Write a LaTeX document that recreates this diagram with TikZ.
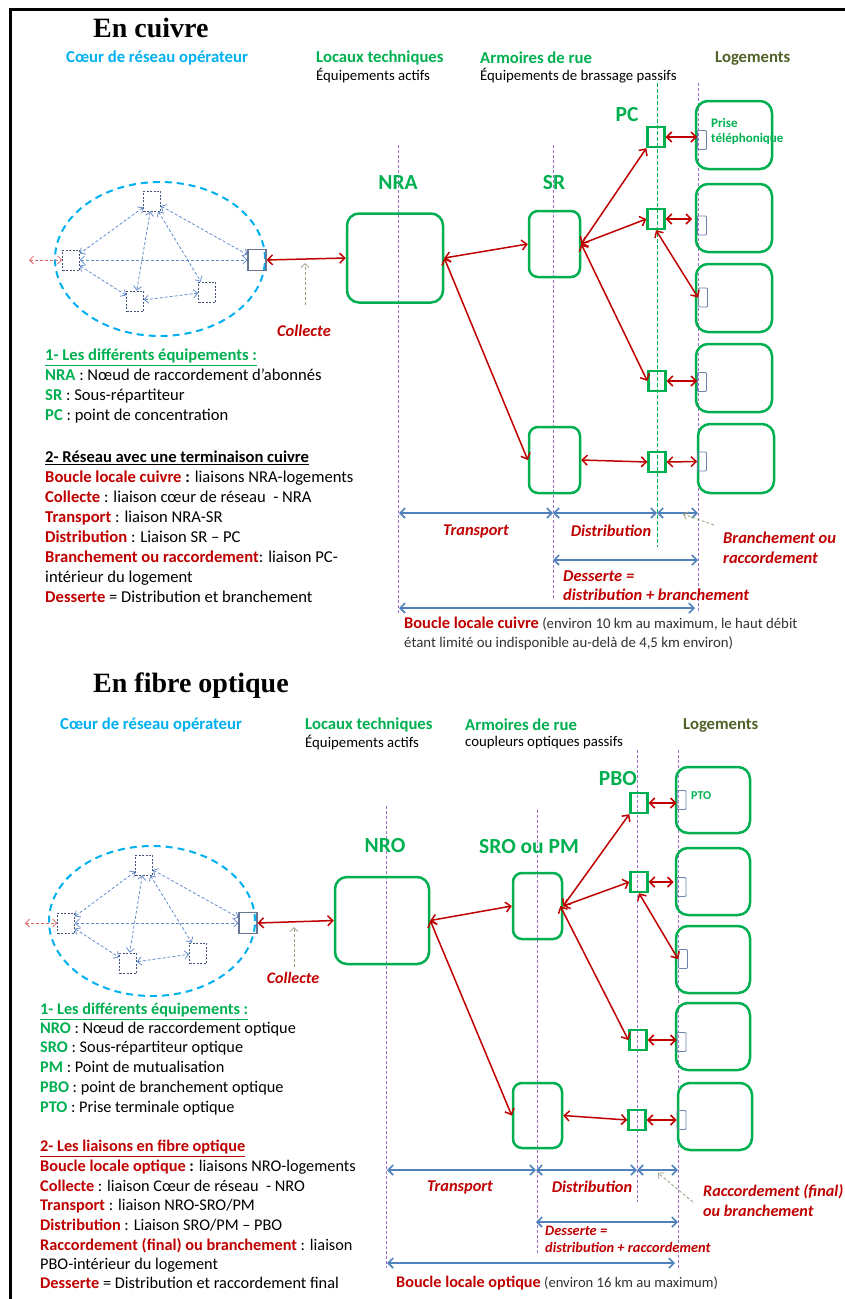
\documentclass[tikz,border=0pt]{standalone}
\usepackage{fontspec}
\setmainfont{Carlito}
\newfontfamily\titlefont{Liberation Serif}
\usetikzlibrary{arrows.meta,shapes.geometric}
\definecolor{grn}{RGB}{0,176,80}
\definecolor{cyanc}{RGB}{0,176,240}
\definecolor{redc}{RGB}{192,0,0}
\definecolor{olivec}{RGB}{79,98,40}
\definecolor{purp}{RGB}{160,110,210}
\definecolor{brc}{RGB}{79,129,189}
\definecolor{coreac}{RGB}{100,140,205}
\definecolor{sqc}{RGB}{68,84,120}
\definecolor{plugc}{RGB}{110,130,175}
\definecolor{darkt}{RGB}{50,50,50}
\tikzset{
 every node/.style={inner sep=0pt},
 gbox/.style={draw=grn, line width=2.5pt, rounded corners=12pt},
 gsq/.style={draw=grn, line width=2.4pt, minimum width=17pt, minimum height=20pt},
 plug/.style={draw=plugc, line width=0.9pt, rounded corners=1pt, minimum width=9pt, minimum height=19pt},
 dsq/.style={draw=sqc, line width=0.7pt, dash pattern=on 2pt off 1.5pt, minimum width=17pt, minimum height=20pt},
 ssq/.style={draw=sqc!80, line width=1.1pt, minimum width=18pt, minimum height=21pt},
 redarr/.style={draw=redc, line width=1.5pt, {Straight Barb[length=5pt,width=10pt]}-{Straight Barb[length=5pt,width=10pt]}},
 corearr/.style={draw=coreac, line width=0.8pt, dash pattern=on 3pt off 2pt, {Straight Barb[length=4pt,width=8pt]}-{Straight Barb[length=4pt,width=8pt]}},
 reddash/.style={draw=redc!60, line width=0.8pt, dash pattern=on 3pt off 2pt, {Straight Barb[length=4pt,width=8pt]}-{Straight Barb[length=4pt,width=8pt]}},
 oldash/.style={draw=olivec!60, line width=0.8pt, dash pattern=on 3pt off 2pt, -{Straight Barb[length=4pt,width=8pt]}},
 vline/.style={draw=purp, line width=0.8pt, dash pattern=on 3pt off 2pt},
 gline/.style={draw=grn, line width=0.8pt, dash pattern=on 4pt off 2pt},
 brk/.style={draw=brc, line width=1.6pt, {Straight Barb[length=5pt,width=10pt]}-{Straight Barb[length=5pt,width=10pt]}},
 core/.style={ellipse, draw=cyanc, line width=2pt, dash pattern=on 7pt off 5pt},
 ttl/.style={anchor=west, font=\titlefont\bfseries\fontsize{28}{31}\selectfont},
 hdr/.style={anchor=west, font=\bfseries\fontsize{16.7}{19}\selectfont},
 sub/.style={anchor=west, font=\fontsize{14.8}{17}\selectfont},
 eql/.style={text=grn, font=\bfseries\fontsize{21.5}{24}\selectfont},
 lg/.style={anchor=west, font=\fontsize{16.6}{19}\selectfont, text height=1.5ex, text depth=.3ex},
 lgb/.style={anchor=west, font=\fontsize{16.3}{19}\selectfont, text height=1.5ex, text depth=.3ex},
 lab/.style={text=redc, font=\bfseries\itshape\fontsize{16.4}{19}\selectfont},
 labw/.style={anchor=west, text=redc, font=\bfseries\itshape\fontsize{16.5}{19}\selectfont},
}
\begin{document}
\begin{tikzpicture}[x=1pt,y=-1pt]
\useasboundingbox (0,0) rectangle (845,1299);
\draw[line width=3pt] (10,1299) -- (10,9) -- (845,9);
% ================= TOP : EN CUIVRE =================
\node[ttl] (at) at (93,28) {En cuivre};
\node[hdr, text=cyanc] (ah1) at (66,58) {Cœur de réseau opérateur};
\node[hdr, text=grn] (ah2) at (316,58) {Locaux techniques};
\node[sub] (as2) at (316,76) {Équipements actifs};
\node[hdr, text=grn] (ah3) at (480,58) {Armoires de rue};
\node[sub] (as3) at (480,76) {Équipements de brassage passifs};
\node[hdr, text=olivec] (ah4) at (715,58) {Logements};
% vertical lines
\coordinate (av1a) at (398,145); \coordinate (av1b) at (398,613);
\coordinate (av2a) at (553,145); \coordinate (av2b) at (553,600);
\coordinate (av3a) at (657,83);  \coordinate (av3b) at (657,547);
\coordinate (av4a) at (698,83);  \coordinate (av4b) at (698,613);
\draw[vline] (av1a) -- (av1b);
\draw[vline] (av2a) -- (av2b);
\draw[gline] (av3a) -- (av3b);
\draw[vline] (av4a) -- (av4b);
% core network
\node[core, minimum width=210pt, minimum height=154pt] (acore) at (160,259) {};
\node[dsq] (actop) at (152,201) {};
\node[dsq] (acleft) at (71,260) {};
\node[dsq] (acbot) at (135,301) {};
\node[dsq] (acbr) at (207,292) {};
\node[ssq] (acrs) at (257,260) {};
\draw[corearr] (actop) -- (acrs);
\draw[corearr] (actop) -- (acleft);
\draw[corearr] (actop) -- (acbot);
\draw[corearr] (actop) -- (acbr);
\draw[corearr] (acleft) -- (acrs);
\draw[corearr] (acleft) -- (acbot);
\draw[corearr] (acbot) -- (acbr);
\coordinate (aext) at (29,260);
\draw[reddash] (aext) -- (acleft.west);
% boxes
\node[eql] (anra) at (398,183) {NRA};
\node[eql] (asrl) at (554,183) {SR};
\node[eql] (apcl) at (627,115) {PC};
\node[gbox, minimum width=96pt, minimum height=89pt] (nra) at (395,258) {};
\node[gbox, rounded corners=9pt, minimum width=51pt, minimum height=66pt] (asr1) at (554.5,244) {};
\node[gbox, rounded corners=9pt, minimum width=51pt, minimum height=66pt] (asr2) at (554.5,460) {};
\node[gsq] (apc1) at (656,137) {};
\node[gsq] (apc2) at (656,219) {};
\node[gsq] (apc3) at (657,381) {};
\node[gsq] (apc4) at (657,462) {};
\node[gbox, minimum width=76pt, minimum height=68pt] (al1) at (734,135) {};
\node[gbox, minimum width=76pt, minimum height=68pt] (al2) at (734,218) {};
\node[gbox, minimum width=76pt, minimum height=68pt] (al3) at (734,298) {};
\node[gbox, minimum width=76pt, minimum height=68pt] (al4) at (734,378) {};
\node[gbox, minimum width=76pt, minimum height=69pt] (al5) at (736,458.5) {};
\node[plug] (ap1) at (702,140) {};
\node[plug] (ap2) at (702,225.5) {};
\node[plug] (ap3) at (703,297.5) {};
\node[plug] (ap4) at (702,382) {};
\node[plug] (ap5) at (702,461.5) {};
\node[anchor=west, text=grn, font=\bfseries\fontsize{13}{15}\selectfont] (apt1) at (711,123) {Prise};
\node[anchor=west, text=grn, font=\bfseries\fontsize{13}{15}\selectfont] (apt2) at (711,139) {téléphonique};
% red links
\draw[redarr] (acrs.east) -- (nra.west);
\draw[redarr] (nra.east) -- (asr1.west);
\draw[redarr] (nra.east) -- (asr2.west);
\draw[redarr] (asr1.east) -- (apc1.south west);
\draw[redarr] (asr1.east) -- (apc2.west);
\draw[redarr] (asr1.east) -- (apc3.west);
\draw[redarr] (asr2.east) -- (apc4.west);
\draw[redarr] (apc2.south) -- (ap3.west);
\draw[redarr] (apc1.east) -- (apc1.east -| ap1.west);
\draw[redarr] (apc2.east) -- ([xshift=-5pt]apc2.east -| ap2.west);
\draw[redarr] (apc3.east) -- (apc3.east -| ap4.west);
\draw[redarr] (apc4.east) -- (ap5.west);
% collecte
\coordinate (acol1) at (305,305); \coordinate (acol2) at (305,263);
\draw[oldash] (acol1) -- (acol2);
\node[lab] (acol) at (304,331) {Collecte};
% brackets
\coordinate (ab1) at (399,513); \coordinate (ab2) at (553,513);
\coordinate (ab3) at (657,513); \coordinate (ab4) at (698,513);
\draw[brk] (ab1) -- (ab2);
\draw[brk] (ab2) -- (ab3);
\draw[brk] (ab3) -- (ab4);
\coordinate (ad1) at (553,560); \coordinate (ad2) at (698,560);
\draw[brk] (ad1) -- (ad2);
\coordinate (abl1) at (399,608); \coordinate (abl2) at (695,608);
\draw[brk] (abl1) -- (abl2);
\node[lab] (atr) at (476,531) {Transport};
\node[lab] (adi) at (611,531) {Distribution};
\node[labw] (abr1) at (723,538) {Branchement ou};
\node[labw] (abr2) at (723,558) {raccordement};
\coordinate (abra) at (714,525); \coordinate (abrb) at (683,514);
\draw[oldash] (abra) -- (abrb);
\node[labw] (ade1) at (563,576) {Desserte =};
\node[labw] (ade2) at (563,595) {distribution + branchement};
\node[anchor=west, font=\fontsize{14.8}{17}\selectfont] (abc1) at (404,624) {\textcolor{redc}{\bfseries\fontsize{16.4}{19}\selectfont Boucle locale cuivre} \textcolor{darkt}{(environ 10 km au maximum, le haut débit}};
\node[anchor=west, text=darkt, font=\fontsize{14.8}{17}\selectfont] (abc2) at (404,643) {étant limité ou indisponible au-delà de 4,5 km environ)};
% legend
\node[lg] (ag1) at (45,358) {\textcolor{grn}{\bfseries\underline{1- Les différents équipements :}}};
\node[lg] (ag2) at (45,378) {\textcolor{grn}{\bfseries NRA} : Nœud de raccordement d’abonnés};
\node[lg] (ag3) at (45,398) {\textcolor{grn}{\bfseries SR} : Sous-répartiteur};
\node[lg] (ag4) at (45,418) {\textcolor{grn}{\bfseries PC} : point de concentration};
\node[lg] (ag5) at (45,460) {\bfseries\underline{2- Réseau avec une terminaison cuivre}};
\node[lg] (ag6) at (45,480) {\textcolor{redc}{\bfseries Boucle locale cuivre} \textbf{:} liaisons NRA-logements};
\node[lg] (ag7) at (45,500) {\textcolor{redc}{\bfseries Collecte} : liaison cœur de réseau \ - NRA};
\node[lg] (ag8) at (45,520) {\textcolor{redc}{\bfseries Transport} : liaison NRA-SR};
\node[lg] (ag9) at (45,540) {\textcolor{redc}{\bfseries Distribution} : Liaison SR – PC};
\node[lg] (ag10) at (45,560) {\textcolor{redc}{\bfseries Branchement ou raccordement}: liaison PC-};
\node[lg] (ag11) at (45,580) {intérieur du logement};
\node[lg] (ag12) at (45,600) {\textcolor{redc}{\bfseries Desserte} = Distribution et branchement};
% ================= BOTTOM : EN FIBRE OPTIQUE =================
\node[ttl] (bt) at (93,686) {En fibre optique};
\node[hdr, text=cyanc] (bh1) at (60,725) {Cœur de réseau opérateur};
\node[hdr, text=grn] (bh2) at (305,725) {Locaux techniques};
\node[sub] (bs2) at (305,743) {Équipements actifs};
\node[hdr, text=grn] (bh3) at (465,725) {Armoires de rue};
\node[sub] (bs3) at (465,743) {coupleurs optiques passifs};
\node[hdr, text=olivec] (bh4) at (683,725) {Logements};
\coordinate (bv1a) at (386,806); \coordinate (bv1b) at (386,1268);
\coordinate (bv2a) at (537,810); \coordinate (bv2b) at (537,1255);
\coordinate (bv3a) at (637,750); \coordinate (bv3b) at (637,1202);
\coordinate (bv4a) at (678,750); \coordinate (bv4b) at (678,1268);
\draw[vline] (bv1a) -- (bv1b);
\draw[vline] (bv2a) -- (bv2b);
\draw[vline] (bv3a) -- (bv3b);
\draw[vline] (bv4a) -- (bv4b);
\node[core, minimum width=206pt, minimum height=150pt] (bcore) at (152,921) {};
\node[dsq] (bctop) at (144,865) {};
\node[dsq] (bcleft) at (66,923) {};
\node[dsq] (bcbot) at (128,963) {};
\node[dsq] (bcbr) at (198,953) {};
\node[ssq] (bcrs) at (248,923) {};
\draw[corearr] (bctop) -- (bcrs);
\draw[corearr] (bctop) -- (bcleft);
\draw[corearr] (bctop) -- (bcbot);
\draw[corearr] (bctop) -- (bcbr);
\draw[corearr] (bcleft) -- (bcrs);
\draw[corearr] (bcleft) -- (bcbot);
\draw[corearr] (bcbot) -- (bcbr);
\coordinate (bext) at (25,923);
\draw[reddash] (bext) -- (bcleft.west);
\node[eql] (bnrol) at (385,846) {NRO};
\node[eql] (bsrol) at (529,847) {SRO ou PM};
\node[eql] (bpbol) at (618,779) {PBO};
\node[gbox, minimum width=94pt, minimum height=87pt] (nro) at (382,920.5) {};
\node[gbox, rounded corners=9pt, minimum width=49pt, minimum height=66pt] (bsr1) at (537.5,906) {};
\node[gbox, rounded corners=9pt, minimum width=49pt, minimum height=65pt] (bsr2) at (537.5,1115.5) {};
\node[gsq] (bpb1) at (639,803) {};
\node[gsq] (bpb2) at (639,882) {};
\node[gsq] (bpb3) at (638,1040) {};
\node[gsq] (bpb4) at (637,1120) {};
\node[gbox, minimum width=74pt, minimum height=66pt] (bl1) at (713,800) {};
\node[gbox, minimum width=74pt, minimum height=67pt] (bl2) at (713,881.5) {};
\node[gbox, minimum width=74pt, minimum height=67pt] (bl3) at (713,959.5) {};
\node[gbox, minimum width=74pt, minimum height=67pt] (bl4) at (713,1036.5) {};
\node[gbox, minimum width=74pt, minimum height=67pt] (bl5) at (715,1116.5) {};
\node[plug] (bp1) at (681.5,800) {};
\node[plug] (bp2) at (681.5,887) {};
\node[plug] (bp3) at (683,959) {};
\node[plug] (bp4) at (681.5,1042) {};
\node[plug] (bp5) at (681.5,1120) {};
\node[anchor=west, text=grn, font=\bfseries\fontsize{12}{14}\selectfont] (bpto) at (691,796) {PTO};
\draw[redarr] (bcrs.east) -- (nro.west);
\draw[redarr] (nro.east) -- (bsr1.west);
\draw[redarr] (nro.east) -- (bsr2.west);
\draw[redarr] (bsr1.east) -- (bpb1.south west);
\draw[redarr] (bsr1.east) -- (bpb2.west);
\draw[redarr] ([xshift=-3pt]bsr1.east) -- (bpb3.west);
\draw[redarr] (bsr2.east) -- (bpb4.west);
\draw[redarr] (bpb2.south) -- (bp3.west);
\draw[redarr] (bpb1.east) -- (bpb1.east -| bp1.west);
\draw[redarr] (bpb2.east) -- ([xshift=-3pt]bpb2.east -| bp2.west);
\draw[redarr] (bpb3.east) -- (bpb3.east -| bp4.west);
\draw[redarr] (bpb4.east) -- (bp5.west);
\coordinate (bcol1) at (294,967); \coordinate (bcol2) at (294,927);
\draw[oldash] (bcol1) -- (bcol2);
\node[lab, font=\bfseries\itshape\fontsize{16}{19}\selectfont] (bcol) at (293,978) {Collecte};
\coordinate (bb1) at (387,1170); \coordinate (bb2) at (536,1170);
\coordinate (bb3) at (637,1170); \coordinate (bb4) at (678,1170);
\draw[brk] (bb1) -- (bb2);
\draw[brk] (bb2) -- (bb3);
\draw[brk] (bb3) -- (bb4);
\coordinate (bd1) at (536,1222); \coordinate (bd2) at (678,1222);
\draw[brk] (bd1) -- (bd2);
\coordinate (bbl1) at (387,1263); \coordinate (bbl2) at (675,1263);
\draw[brk] (bbl1) -- (bbl2);
\node[lab] (btr) at (460,1187) {Transport};
\node[lab] (bdi) at (592,1187) {Distribution};
\node[labw, font=\bfseries\itshape\fontsize{16.2}{19}\selectfont] (bra1) at (703,1192) {Raccordement (final)};
\node[labw, font=\bfseries\itshape\fontsize{16.2}{19}\selectfont] (bra2) at (703,1211) {ou branchement};
\coordinate (bbra) at (693,1202); \coordinate (bbrb) at (658,1173);
\draw[oldash] (bbra) -- (bbrb);
\node[labw, font=\bfseries\itshape\fontsize{14.4}{17}\selectfont] (bde1) at (545,1231) {Desserte =};
\node[labw, font=\bfseries\itshape\fontsize{14.4}{17}\selectfont] (bde2) at (545,1247) {distribution + raccordement};
\node[anchor=west, font=\fontsize{14.6}{17}\selectfont] (bbc1) at (396,1283) {\textcolor{redc}{\bfseries\fontsize{16.2}{19}\selectfont Boucle locale optique} \textcolor{darkt}{(environ 16 km au maximum)}};
\node[lgb] (bg1) at (40,1012) {\textcolor{grn}{\bfseries\underline{1- Les différents équipements :}}};
\node[lgb] (bg2) at (40,1031) {\textcolor{grn}{\bfseries NRO} : Nœud de raccordement optique};
\node[lgb] (bg3) at (40,1050) {\textcolor{grn}{\bfseries SRO} : Sous-répartiteur optique};
\node[lgb] (bg4) at (40,1070) {\textcolor{grn}{\bfseries PM} : Point de mutualisation};
\node[lgb] (bg5) at (40,1090) {\textcolor{grn}{\bfseries PBO} : point de branchement optique};
\node[lgb] (bg6) at (40,1110) {\textcolor{grn}{\bfseries PTO} : Prise terminale optique};
\node[lgb] (bg7) at (40,1149) {\textcolor{redc}{\bfseries\underline{2- Les liaisons en fibre optique}}};
\node[lgb] (bg8) at (40,1169) {\textcolor{redc}{\bfseries Boucle locale optique} \textbf{:} liaisons NRO-logements};
\node[lgb] (bg9) at (40,1189) {\textcolor{redc}{\bfseries Collecte} : liaison Cœur de réseau \ - NRO};
\node[lgb] (bg10) at (40,1208) {\textcolor{redc}{\bfseries Transport} : liaison NRO-SRO/PM};
\node[lgb] (bg11) at (40,1228) {\textcolor{redc}{\bfseries Distribution} : Liaison SRO/PM – PBO};
\node[lgb] (bg12) at (40,1248) {\textcolor{redc}{\bfseries Raccordement (final) ou branchement} : liaison};
\node[lgb] (bg13) at (40,1267) {PBO-intérieur du logement};
\node[lgb] (bg14) at (40,1286) {\textcolor{redc}{\bfseries Desserte} = Distribution et raccordement final};
\end{tikzpicture}
\end{document}
